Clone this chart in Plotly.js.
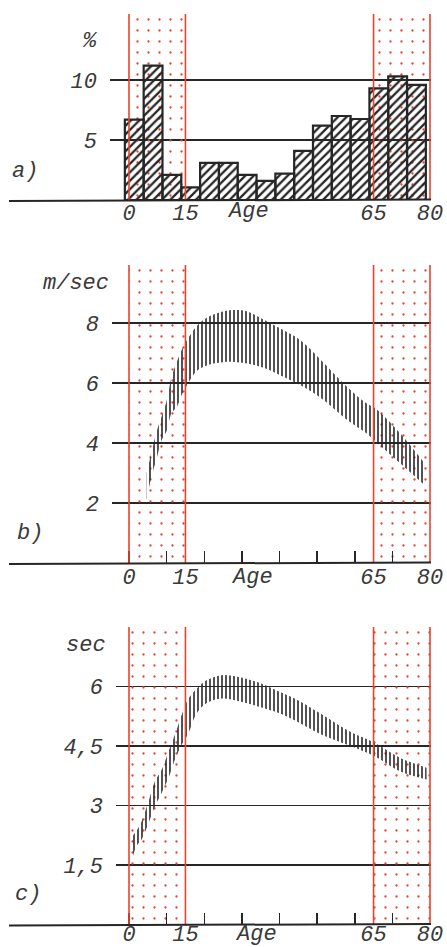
<!DOCTYPE html>
<html><head><meta charset="utf-8">
<script src="https://cdn.plot.ly/plotly-3.0.1.min.js"></script>
<style>html,body{margin:0;padding:0;background:#fff}#chart{width:447px;height:947px}</style>
</head><body><div id="chart"></div>
<script>
// ---------------- data ----------------
// a) share of pedestrian casualties by 5-year age group (%)
const ageGroupStart = [0, 5, 10, 15, 20, 25, 30, 35, 40, 45, 50, 55, 60, 65, 70, 75];
const sharePct = [6.7, 11.2, 2.1, 1.05, 3.1, 3.1, 2.1, 1.6, 2.2, 4.1, 6.2, 7.0, 6.75, 9.3, 10.3, 9.6];

// b) walking speed range (m/sec) by age
const speedAge   = [4.7, 6, 7.4, 8.7, 10, 11.3, 12.7, 14, 15.3, 18, 21, 25.5, 28, 31, 36, 40, 45.5, 51, 58, 63, 66, 72, 78.5];
const speedUpper = [3.0, 3.7, 4.4, 4.9, 5.4, 6.2, 6.7, 7.1, 7.4, 7.9, 8.2, 8.4, 8.43, 8.4, 8.1, 7.83, 7.43, 6.77, 5.87, 5.33, 5.1, 4.33, 3.33];
const speedLower = [2.1, 2.9, 3.5, 4.1, 4.4, 5.0, 5.2, 5.6, 5.9, 6.4, 6.6, 6.7, 6.7, 6.66, 6.5, 6.27, 5.93, 5.5, 4.77, 4.33, 4.0, 3.33, 2.6];

// c) time range (sec) by age
const timeAge   = [0.7, 2, 3.4, 5.1, 6.9, 8.7, 10.5, 12.2, 14, 15.8, 18, 20.6, 24.6, 29.5, 34.8, 40, 45.5, 50.8, 58.7, 65.4, 72, 79.1];
const timeUpper = [2.2, 2.36, 2.61, 3.07, 3.61, 3.9, 4.36, 4.78, 5.28, 5.69, 5.94, 6.15, 6.28, 6.23, 6.08, 5.86, 5.62, 5.32, 4.86, 4.57, 4.2, 3.95];
const timeLower = [1.6, 1.98, 2.15, 2.53, 2.98, 3.32, 3.69, 4.15, 4.53, 4.82, 5.32, 5.57, 5.69, 5.62, 5.48, 5.32, 5.07, 4.8, 4.5, 4.23, 3.86, 3.65];

// highlighted age bands (children, elderly)
const bandFrom = [0, 65];
const bandTo   = [15, 80];

// tick labels
const ageLabelVals = [0, 15, 65, 80];
const ageLabelText = ['0', '15', '65', '80'];
const ageTickVals = [0, 10, 15, 20, 30, 40, 50, 60, 65, 70, 80];
const ageTickText = ['0', '', '15', '', '', '', '', '', '65', '', '80'];
const pctTicks = [5, 10];
const pctTickText = ['5', '10'];
const speedTicks = [2, 4, 6, 8];
const speedTickText = ['2', '4', '6', '8'];
const timeTicks = [1.5, 3, 4.5, 6];
const timeTickText = ['1,5', '3', '4,5', '6'];

// ---------------- layout geometry ----------------
const W = 447, H = 947;
const PX0 = 129, PPY = 3.7625;           // pixel of age 0, pixels per year
const INK = '#262626', RED = '#e8432d';
const FONT = {family: 'Liberation Mono, DejaVu Sans Mono, monospace', size: 22, color: '#3a3a3a', style: 'italic'};
const panels = [
  {left: 110, right: 431, top: 14,  bottom: 200,   ppu: 12, xstand: -3},
  {left: 112, right: 431, top: 265, bottom: 563,   ppu: 30, xstand: -2},
  {left: 116, right: 431, top: 627, bottom: 924.5, ppu: 39.7, xstand: -7}
];
const xr = p => [(p.left - PX0) / PPY, (p.right - PX0) / PPY];
const dom = p => [1 - p.bottom / H, 1 - p.top / H];
const ytop = p => (p.bottom - p.top) / p.ppu;
const px = v => v / W, py = v => 1 - v / H;

const traces = [];
const suffix = ['', '2', '3'];

// stippled red bands in every panel
panels.forEach((p, i) => {
  traces.push({
    type: 'bar', xaxis: 'x' + suffix[i], yaxis: 'y' + suffix[i],
    x: bandFrom.map((f, k) => (f + bandTo[k]) / 2),
    width: bandFrom.map((f, k) => bandTo[k] - f),
    y: bandFrom.map(() => ytop(p)), base: 0,
    marker: {color: RED, line: {width: 0},
      pattern: {shape: '.', fgcolor: RED, bgcolor: 'rgba(0,0,0,0)', size: 11, solidity: 0.035, fillmode: 'replace'}},
    hoverinfo: 'skip'
  });
});

// a) histogram
traces.push({
  type: 'bar', xaxis: 'x', yaxis: 'y',
  x: ageGroupStart, y: sharePct, width: ageGroupStart.map(() => 5), offset: -1.1,
  marker: {color: INK, line: {color: INK, width: 2.2},
    pattern: {shape: '/', fgcolor: INK, bgcolor: 'rgba(0,0,0,0)', size: 6, solidity: 0.38, fillmode: 'replace'}}
});

// b) and c) hatched ranges
function band(ages, lo, hi, ax) {
  traces.push({type: 'scatter', mode: 'lines', xaxis: 'x' + ax, yaxis: 'y' + ax,
    x: ages, y: lo, line: {width: 0, shape: 'spline'}, hoverinfo: 'skip'});
  traces.push({type: 'scatter', mode: 'lines', xaxis: 'x' + ax, yaxis: 'y' + ax,
    x: ages, y: hi, line: {width: 0, shape: 'spline'}, fill: 'tonexty', fillcolor: INK,
    fillpattern: {shape: '|', fgcolor: INK, bgcolor: 'rgba(0,0,0,0)', size: 4, solidity: 0.4, fillmode: 'replace'},
    hoverinfo: 'skip'});
}
band(speedAge, speedLower, speedUpper, '2');
band(timeAge, timeLower, timeUpper, '3');

const layout = {
  width: W, height: H, margin: {l: 0, r: 0, t: 0, b: 0},
  paper_bgcolor: '#fff', plot_bgcolor: 'rgba(0,0,0,0)',
  showlegend: false, barmode: 'overlay', hovermode: false,
  font: FONT,
  shapes: [], annotations: []
};

const yTicks = [[pctTicks, pctTickText], [speedTicks, speedTickText], [timeTicks, timeTickText]];
panels.forEach((p, i) => {
  const s = suffix[i];
  layout['xaxis' + s] = {
    domain: [p.left / W, p.right / W], range: xr(p), anchor: 'y' + s,
    showgrid: false, zeroline: false, showline: false,
    tickmode: 'array',
    tickvals: i === 0 ? ageLabelVals : ageTickVals,
    ticktext: i === 0 ? ageLabelText : ageTickText,
    ticks: i === 0 ? '' : 'inside', ticklen: 12, tickwidth: 1.5, tickcolor: INK,
    tickfont: FONT, ticklabelstandoff: p.xstand, fixedrange: true
  };
  layout['yaxis' + s] = {
    domain: dom(p), range: [0, ytop(p)], anchor: 'x' + s,
    showgrid: true, gridcolor: INK, gridwidth: 1.5, zeroline: false, showline: false,
    tickmode: 'array', tickvals: yTicks[i][0], ticktext: yTicks[i][1],
    ticks: '', tickfont: FONT, ticklabelstandoff: 12, fixedrange: true
  };
  // vertical red band edges
  [...bandFrom, ...bandTo].forEach(a => layout.shapes.push({
    type: 'line', xref: 'x' + s, yref: 'y' + s + ' domain', x0: a, x1: a, y0: 0, y1: 1,
    line: {color: RED, width: 1.6}
  }));
  // baseline running out to the left
  layout.shapes.push({type: 'line', xref: 'paper', yref: 'paper',
    x0: px(9), x1: px(431), y0: py(p.bottom + 1), y1: py(p.bottom - 0.5),
    line: {color: INK, width: 2}});
});

const notes = [
  ['%', 90, 42], ['a)', 25, 172],
  ['m/sec', 76, 283], ['b)', 30, 533],
  ['sec', 86, 645], ['c)', 28, 894],
  ['Age', 248, 212], ['Age', 252, 577], ['Age', 256, 934]
];
notes.forEach(([t, x, y]) => layout.annotations.push({
  text: t, xref: 'paper', yref: 'paper', x: px(x), y: py(y),
  xanchor: 'center', yanchor: 'middle', showarrow: false, font: FONT
}));

Plotly.newPlot('chart', traces, layout, {staticPlot: true, displayModeBar: false});
</script>
</body></html>
